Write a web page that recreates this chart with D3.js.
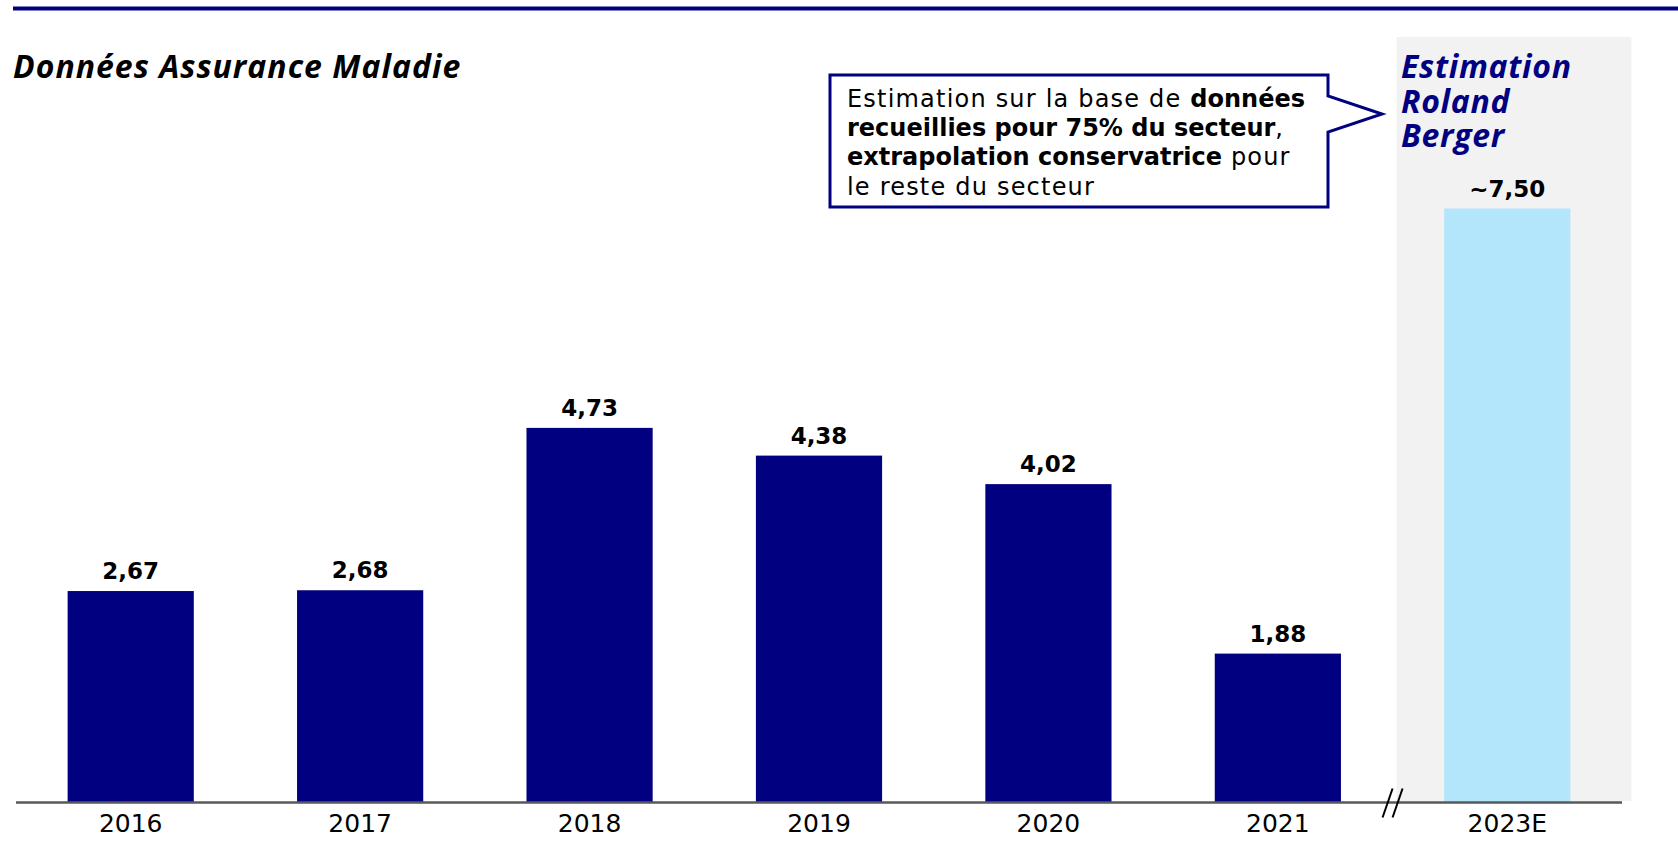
<!DOCTYPE html>
<html>
<head>
<meta charset="utf-8">
<script src="https://cdn.jsdelivr.net/npm/d3@7"></script>
<style>
  html, body { margin: 0; padding: 0; background: #fff; }
  svg { display: block; }
</style>
</head>
<body>
<div id="chart"></div>
<script>
// values
const years = ['2016', '2017', '2018', '2019', '2020', '2021', '2023E']
const values = [2.67, 2.68, 4.73, 4.38, 4.02, 1.88, 7.50]
const estimated = [false, false, false, false, false, false, true]

const title = 'Données Assurance Maladie'
const panelTitle = ['Estimation', 'Roland', 'Berger']
// callout lines, each a list of [text, bold]
const noteLines = [
  [['Estimation sur la base de ', false], ['données', true]],
  [['recueillies pour 75% du secteur', true], [',', false]],
  [['extrapolation conservatrice', true], [' pour', false]],
  [['le reste du secteur', false]]
]

const W = 1678
const H = 846
const colors = {
  navy: '#000080',
  estimate: '#b3e5fb',
  panel: '#f2f2f2',
  axis: '#595959',
  text: '#000000'
}
const headFont = '"Open Sans", sans-serif'
const bodyFont = '"DejaVu Sans", sans-serif'

const fr = d3.formatLocale({ decimal: ',', thousands: ' ', grouping: [3], currency: ['', ' €'] })
const fmt = fr.format('.2f')

const svg = d3.select('#chart').append('svg')
  .attr('width', W)
  .attr('height', H)

const x = d3.scaleBand()
  .domain(years)
  .range([16, 1622])
  .paddingInner(0.45)
  .paddingOuter(0.225)

const y = d3.scaleLinear()
  .domain([0, 7.5])
  .range([802.5, 208.5])

const bw = x.bandwidth()
const gap = x.step() - bw
const estX = x('2023E')

// top rule
svg.append('line')
  .attr('x1', 13).attr('x2', W)
  .attr('y1', 8.5).attr('y2', 8.5)
  .attr('stroke', colors.navy)
  .attr('stroke-width', 4)

// grey panel behind the estimate
svg.append('rect')
  .attr('x', estX - gap / 2 + 4)
  .attr('y', 37)
  .attr('width', bw + gap / 2 - 4 + 61)
  .attr('height', y(0) - 37 - 1.5)
  .attr('fill', colors.panel)

// title
svg.append('text')
  .attr('x', 13)
  .attr('y', 78)
  .attr('font-family', headFont)
  .attr('font-weight', 700)
  .attr('font-style', 'italic')
  .attr('font-size', 32)
  .attr('letter-spacing', 1)
  .attr('fill', colors.text)
  .text(title)

// panel heading, one text per line
svg.append('g')
  .selectAll('text')
  .data(panelTitle)
  .join('text')
  .attr('x', 1401)
  .attr('y', (d, i) => 78 + i * 34.5)
  .attr('font-family', headFont)
  .attr('font-weight', 700)
  .attr('font-style', 'italic')
  .attr('font-size', 32)
  .attr('letter-spacing', 0.7)
  .attr('fill', colors.navy)
  .text(d => d)

// bars
svg.append('g')
  .selectAll('rect')
  .data(years)
  .join('rect')
  .attr('x', d => x(d))
  .attr('y', (d, i) => y(values[i]))
  .attr('width', bw)
  .attr('height', (d, i) => y(0) - y(values[i]))
  .attr('fill', (d, i) => estimated[i] ? colors.estimate : colors.navy)

// value labels
svg.append('g')
  .selectAll('text')
  .data(years)
  .join('text')
  .attr('x', d => x(d) + bw / 2)
  .attr('y', (d, i) => y(values[i]) - 12)
  .attr('text-anchor', 'middle')
  .attr('font-family', bodyFont)
  .attr('font-weight', 700)
  .attr('font-size', 23)
  .attr('fill', colors.text)
  .text((d, i) => (estimated[i] ? '~' : '') + fmt(values[i]))

// x axis
const axis = svg.append('g')
  .attr('transform', `translate(0,${y(0)})`)
  .call(d3.axisBottom(x).tickSize(0).tickPadding(12))

axis.select('.domain')
  .attr('stroke', colors.axis)
  .attr('stroke-width', 2.5)
  .attr('d', `M${x.range()[0]},0H${x.range()[1]}`)

axis.selectAll('.tick text')
  .attr('font-family', bodyFont)
  .attr('font-size', 25)
  .attr('fill', colors.text)
  .attr('dy', '0.71em')

// axis break
const bx = estX - gap / 2
svg.append('g')
  .selectAll('line')
  .data([-5, 5])
  .join('line')
  .attr('x1', d => bx + d - 5)
  .attr('x2', d => bx + d + 5)
  .attr('y1', y(0) + 15)
  .attr('y2', y(0) - 14)
  .attr('stroke', colors.text)
  .attr('stroke-width', 2)

// callout box with a notch pointing to the panel
const box = { x0: 830, y0: 75, x1: 1328, y1: 207 }
const p = d3.path()
p.moveTo(box.x0, box.y0)
p.lineTo(box.x1, box.y0)
p.lineTo(box.x1, 96)
p.lineTo(1382, 114)
p.lineTo(box.x1, 132)
p.lineTo(box.x1, box.y1)
p.lineTo(box.x0, box.y1)
p.closePath()

svg.append('path')
  .attr('d', p.toString())
  .attr('fill', '#fff')
  .attr('stroke', colors.navy)
  .attr('stroke-width', 3)
  .attr('stroke-linejoin', 'miter')

const note = svg.append('text')
  .attr('font-family', bodyFont)
  .attr('font-size', 24)
  .attr('fill', colors.text)

noteLines.forEach((line, i) => {
  line.forEach(([txt, bold], j) => {
    const t = note.append('tspan')
      .attr('font-weight', bold ? 700 : 400)
      .attr('letter-spacing', bold ? 0 : 1.2)
      .text(txt)
    if (j === 0) t.attr('x', 847).attr('y', 107 + i * 29.2)
  })
})
</script>
</body>
</html>
